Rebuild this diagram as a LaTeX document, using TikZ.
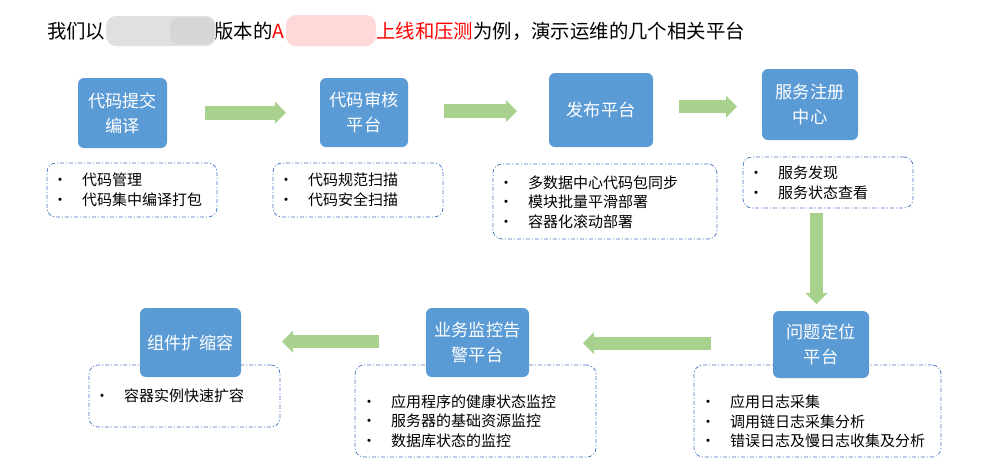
\documentclass[tikz,border=0pt]{standalone}
\usepackage{fontspec}
\setmainfont{Noto Sans CJK SC}
\usetikzlibrary{arrows.meta}
\definecolor{boxblue}{HTML}{5B9BD5}
\definecolor{arrgreen}{HTML}{A9D18E}
\definecolor{dashblue}{HTML}{4472C4}
\definecolor{titlered}{HTML}{FF0000}
\newcommand\bul{\makebox[0pt][c]{\textbullet}\hspace{22pt}}
\tikzset{
  bluebox/.style={fill=boxblue, rounded corners=6pt, text=white, align=center,
    font=\fontsize{17.2}{25}\selectfont, inner sep=0pt},
  tbox/.style={draw=dashblue, line width=0.7pt, rounded corners=9pt,
    dash pattern=on 4pt off 2pt on 1pt off 2pt, fill=white},
  blist/.style={anchor=west, align=left, font=\fontsize{15}{19.5}\selectfont,
    inner sep=0pt, text=black},
  garrow/.style={draw=arrgreen, line width=#1,
    -{Triangle[width=22pt,length=11pt,line width=0pt]}},
  garrow/.default=14pt,
  ttl/.style={anchor=west, inner sep=0pt, font=\fontsize{19.4}{23}\selectfont, text=black},
}
\begin{document}
\begin{tikzpicture}[x=1pt,y=-1pt]
\useasboundingbox[fill=white] (0,0) rectangle (989,475);

% title
\node[ttl] (ti1) at (47,31) {我们以};
\node[ttl] (ti2) at (214,31) {版本的\textcolor{titlered}{A}};
\node[ttl] (ti3) at (376,31) {\textcolor{titlered}{上线和压测}为例，演示运维的几个相关平台};
\fill[black!12, rounded corners=10pt] (106,16) rectangle (216,46);
\fill[black!16, rounded corners=8pt] (170,18) rectangle (214,44);
\fill[red!15, rounded corners=10pt] (286,15) rectangle (376,46);

% dashed text boxes
\node[tbox, minimum width=170, minimum height=54] (t1) at (132,190) {};
\node[tbox, minimum width=170, minimum height=54] (t2) at (358,190) {};
\node[tbox, minimum width=224, minimum height=75] (t3) at (605,201.5) {};
\node[tbox, minimum width=170, minimum height=51] (t4) at (828,182.5) {};
\node[tbox, minimum width=247, minimum height=92] (t5) at (817.5,411) {};
\node[tbox, minimum width=241, minimum height=92] (t6) at (475.5,411) {};
\node[tbox, minimum width=191, minimum height=62] (t7) at (184.5,396) {};

% lists
\node[blist] (l1) at (60,190) {\bul 代码管理\\\bul 代码集中编译打包};
\node[blist] (l2) at (286,190) {\bul 代码规范扫描\\\bul 代码安全扫描};
\node[blist] (l3) at (506,202) {\bul 多数据中心代码包同步\\\bul 模块批量平滑部署\\\bul 容器化滚动部署};
\node[blist] (l4) at (756,183) {\bul 服务发现\\\bul 服务状态查看};
\node[blist] (l5) at (708,421.5) {\bul 应用日志采集\\\bul 调用链日志采集分析\\\bul 错误日志及慢日志收集及分析};
\node[blist] (l6) at (369,421) {\bul 应用程序的健康状态监控\\\bul 服务器的基础资源监控\\\bul 数据库状态的监控};
\node[blist] (l7) at (102,396) {\bul 容器实例快速扩容};

% blue boxes
\node[bluebox, minimum width=89, minimum height=70] (b1) at (122.5,113) {代码提交\\编译};
\node[bluebox, minimum width=88, minimum height=69] (b2) at (364,112.5) {代码审核\\平台};
\node[bluebox, minimum width=104, minimum height=74] (b3) at (601,110) {发布平台};
\node[bluebox, minimum width=96, minimum height=71] (b4) at (810,104.5) {服务注册\\中心};
\node[bluebox, minimum width=96, minimum height=67] (b5) at (821,344.5) {问题定位\\平台};
\node[bluebox, minimum width=103, minimum height=69] (b6) at (477.5,342.5) {业务监控告\\警平台};
\node[bluebox, minimum width=101, minimum height=69] (b7) at (190.5,342.5) {组件扩缩容};

% arrows
\coordinate (a1s) at (205,112.5); \coordinate (a1e) at (286,112.5);
\coordinate (a2s) at (444,111);   \coordinate (a2e) at (517,111);
\coordinate (a3s) at (679,106.5); \coordinate (a3e) at (737,106.5);
\coordinate (a4s) at (816.5,213); \coordinate (a4e) at (816.5,304);
\coordinate (a5s) at (711,343);   \coordinate (a5e) at (583,343);
\coordinate (a6s) at (379,341.5); \coordinate (a6e) at (282,341.5);
\draw[garrow] (a1s) -- (a1e);
\draw[garrow] (a2s) -- (a2e);
\draw[garrow=13pt] (a3s) -- (a3e);
\draw[garrow=13pt] (a4s) -- (a4e);
\draw[garrow=13pt] (a5s) -- (a5e);
\draw[garrow=13pt] (a6s) -- (a6e);
\end{tikzpicture}
\end{document}
